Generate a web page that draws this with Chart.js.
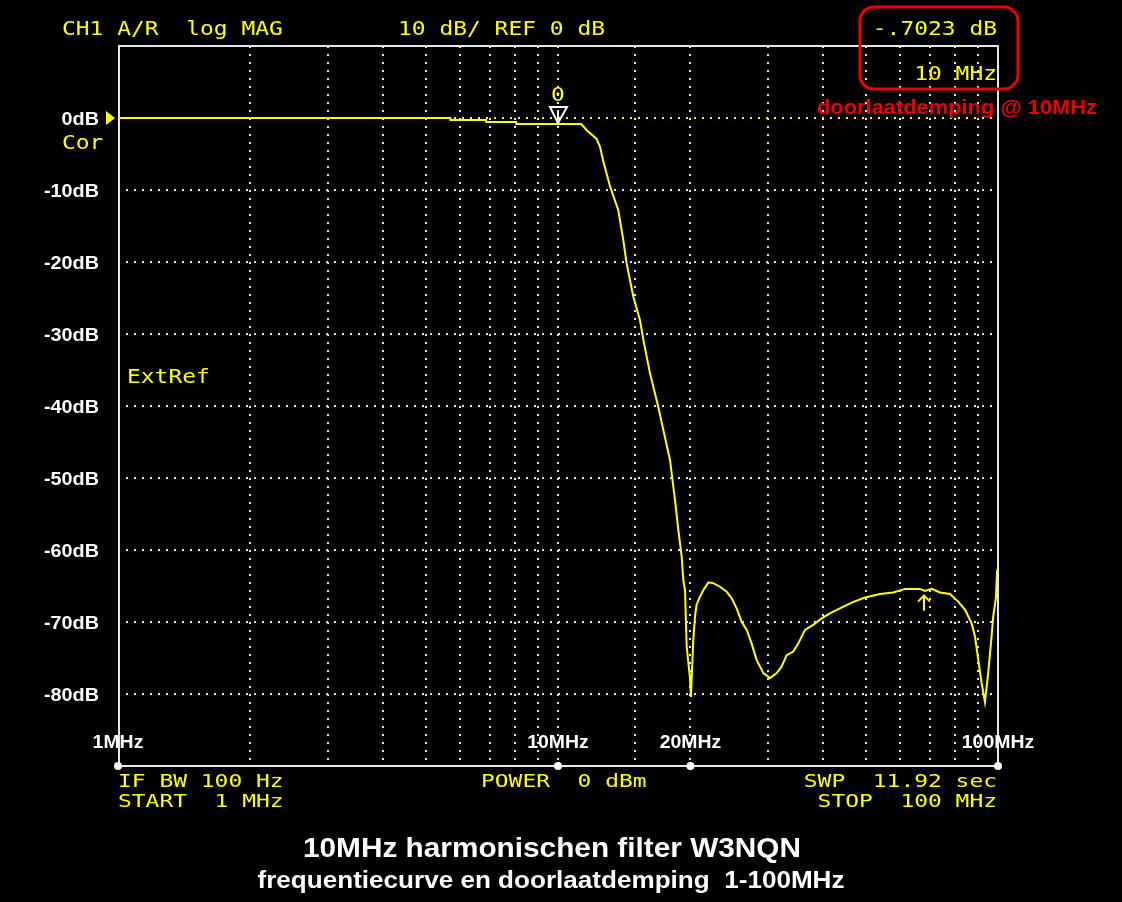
<!DOCTYPE html>
<html>
<head>
<meta charset="utf-8">
<script src="https://cdn.jsdelivr.net/npm/chart.js@4.4.1/dist/chart.umd.min.js"></script>
<style>
  html, body { margin: 0; padding: 0; background: #000; }
  canvas { display: block; }
</style>
</head>
<body>
<canvas id="chart" width="1122" height="902"></canvas>
<script>
// Sweep (MHz / dB)
const freqMHz = [1, 5.69, 5.7, 6.86, 6.87, 8.03, 8.04, 11.3, 11.62, 12.03, 12.24, 12.46, 12.65,
  13.13, 13.71, 14.07, 14.32, 14.83, 15.36, 15.63, 16.19, 16.9, 17.35, 17.97, 18.45, 18.77,
  19.1, 19.27, 19.44, 19.61, 19.95, 20.05, 20.3, 20.48, 20.65, 21.02, 21.39, 21.96, 22.54,
  23.35, 24.17, 24.82, 25.47, 26.16, 26.85, 27.55, 28.29, 29.29, 30.33, 31.41, 32.22, 33.09,
  34.26, 35.16, 36.42, 38.02, 39.72, 41.5, 43.71, 46.49, 49.86, 53.93, 57.81, 61.46, 66.48,
  68.23, 70.7, 73.8, 77.8, 81.3, 84.2, 87.1, 88.66, 90.2, 91.8, 93.4, 95.0, 96.7, 97.5,
  98.9, 99.5, 100];
const magDB = [0, 0, -0.28, -0.28, -0.56, -0.56, -0.84, -0.84, -1.7, -2.5, -2.9, -4.0, -5.8,
  -9.5, -12.8, -16.9, -20.2, -24.8, -28.1, -30.8, -35.5, -40.1, -43.3, -47.5, -53.1, -57.2,
  -60.9, -64.2, -65.6, -73.4, -77.8, -80.4, -72.5, -69.3, -67.6, -66.5, -65.6, -64.5, -64.6,
  -65.1, -65.8, -66.7, -68.1, -70.0, -71.1, -73.0, -75.3, -77.1, -77.8, -77.1, -76.2, -74.6,
  -74.1, -73.0, -71.1, -70.4, -69.5, -68.8, -68.1, -67.3, -66.6, -66.1, -65.9, -65.4, -65.4,
  -65.7, -65.4, -65.9, -66.1, -67.2, -68.3, -70.2, -72.0, -75.3, -78.5, -81.1, -77.1, -72.0, -69.3,
  -66.7, -63.0, -62.5];

const yTickLabels = ['0dB', '-10dB', '-20dB', '-30dB', '-40dB', '-50dB', '-60dB', '-70dB', '-80dB'];
const yTickValues = [0, -10, -20, -30, -40, -50, -60, -70, -80];
const xLabelFreqs = [1, 10, 20, 100];
const xLabelTexts = ['1MHz', '10MHz', '20MHz', '100MHz'];

const markerFreq = 10;
const markerValue = -0.84;
const arrowFreq = 67.9;

const YELLOW = '#ffff00';
const GRID = '#e6e6e6';
const RED = '#ee0000';
const MONO = '"DejaVu Sans Mono", monospace';
const SANS = '"Liberation Sans", Arial, sans-serif';

// monospace screen text, stretched to the 13.8px pitch of the analyzer font
function screenText(ctx, text, x, y, size, align) {
    ctx.save();
    ctx.font = size + 'px ' + MONO;
    ctx.fillStyle = YELLOW;
    ctx.textAlign = 'left';
    ctx.textBaseline = 'alphabetic';
    const natural = ctx.measureText(text).width;
    const sx = (13.8 * text.length) / natural;
    const w = natural * sx;
    let left = x;
    if (align === 'right') left = x - w;
    if (align === 'center') left = x - w / 2;
    ctx.translate(left, y);
    ctx.scale(sx, 1);
    ctx.fillText(text, 0, 0);
    ctx.restore();
}

// bold sans text, stretched either to a width or by a factor
function boldText(ctx, text, x, y, size, align, color, opts) {
    opts = opts || {};
    ctx.save();
    ctx.font = 'bold ' + size + 'px ' + SANS;
    ctx.fillStyle = color;
    ctx.textAlign = 'left';
    ctx.textBaseline = 'alphabetic';
    const natural = ctx.measureText(text).width;
    const sx = opts.width ? opts.width / natural : (opts.stretch || 1);
    const w = natural * sx;
    let left = x;
    if (align === 'right') left = x - w;
    if (align === 'center') left = x - w / 2;
    ctx.translate(left, y);
    ctx.scale(sx, 1);
    ctx.fillText(text, 0, 0);
    ctx.restore();
}

const overlay = {
    id: 'analyzerOverlay',
    beforeDraw(chart) {
        const ctx = chart.ctx;
        ctx.save();
        ctx.fillStyle = '#000';
        ctx.fillRect(0, 0, chart.width, chart.height);
        ctx.restore();
    },
    afterDatasetsDraw(chart) {
        const ctx = chart.ctx;
        const area = chart.chartArea;
        const xs = chart.scales.x;
        const ys = chart.scales.y;

        // screen frame
        ctx.save();
        ctx.strokeStyle = GRID;
        ctx.lineWidth = 2;
        ctx.strokeRect(area.left + 1, area.top, area.right - area.left - 1, area.bottom - area.top);

        // dots on the bottom edge
        ctx.fillStyle = '#ffffff';
        xLabelFreqs.forEach(f => {
            ctx.beginPath();
            ctx.arc(xs.getPixelForValue(f), area.bottom, 4, 0, Math.PI * 2);
            ctx.fill();
        });

        // reference level pointer
        const y0 = ys.getPixelForValue(0);
        ctx.fillStyle = YELLOW;
        ctx.beginPath();
        ctx.moveTo(106, y0 - 7);
        ctx.lineTo(106, y0 + 7);
        ctx.lineTo(115, y0);
        ctx.closePath();
        ctx.fill();

        // marker 0 at 10 MHz
        const mx = xs.getPixelForValue(markerFreq);
        const my = ys.getPixelForValue(markerValue);
        ctx.strokeStyle = '#ffffff';
        ctx.lineWidth = 2;
        ctx.beginPath();
        ctx.moveTo(mx - 8, my - 17);
        ctx.lineTo(mx + 9, my - 17);
        ctx.lineTo(mx, my - 1);
        ctx.closePath();
        ctx.stroke();
        ctx.beginPath();
        ctx.moveTo(mx, my - 12);
        ctx.lineTo(mx, my - 4);
        ctx.stroke();
        screenText(ctx, '0', mx, my - 23, 20, 'center');

        // small marker arrow on the stopband
        const ax = Math.round(xs.getPixelForValue(arrowFreq));
        const ay = ys.getPixelForValue(-66.2);
        ctx.strokeStyle = YELLOW;
        ctx.lineWidth = 2;
        ctx.beginPath();
        ctx.moveTo(ax, ay);
        ctx.lineTo(ax, ay + 16);
        ctx.moveTo(ax - 6, ay + 7);
        ctx.lineTo(ax, ay + 1);
        ctx.lineTo(ax + 6, ay + 7);
        ctx.stroke();
        ctx.restore();

        // axis labels
        yTickValues.forEach((v, i) => {
            boldText(ctx, yTickLabels[i], 99, ys.getPixelForValue(v) + 7, 18, 'right', '#ffffff', { stretch: 1.1 });
        });
        xLabelFreqs.forEach((f, i) => {
            boldText(ctx, xLabelTexts[i], xs.getPixelForValue(f), area.bottom - 18, 18, 'center', '#ffffff', { stretch: 1.08 });
        });

        // analyzer annotations
        screenText(ctx, 'CH1 A/R  log MAG', 62, 35, 20, 'left');
        screenText(ctx, '10 dB/ REF 0 dB', 398, 35, 20, 'left');
        screenText(ctx, '-.7023 dB', 997, 35, 20, 'right');
        screenText(ctx, '10 MHz', 997, 80, 20, 'right');
        screenText(ctx, 'Cor', 62, 149, 20, 'left');
        screenText(ctx, 'ExtRef', 127, 383, 20, 'left');
        screenText(ctx, 'IF BW 100 Hz', 118, 787, 18, 'left');
        screenText(ctx, 'START  1 MHz', 118, 807, 18, 'left');
        screenText(ctx, 'POWER  0 dBm', 481, 787, 18, 'left');
        screenText(ctx, 'SWP  11.92 sec', 997, 787, 18, 'right');
        screenText(ctx, 'STOP  100 MHz', 997, 807, 18, 'right');

        // red callout
        ctx.save();
        ctx.strokeStyle = RED;
        ctx.lineWidth = 3;
        ctx.beginPath();
        ctx.roundRect(860, 7, 158, 82, 14);
        ctx.stroke();
        ctx.restore();
        boldText(ctx, 'doorlaatdemping @ 10MHz', 817, 114, 20, 'left', RED, { width: 280 });

        // captions
        boldText(ctx, '10MHz harmonischen filter W3NQN', 552, 857, 28, 'center', '#ffffff', { width: 498 });
        boldText(ctx, 'frequentiecurve en doorlaatdemping  1-100MHz', 551, 888, 23, 'center', '#ffffff', { width: 587 });
    }
};

new Chart(document.getElementById('chart').getContext('2d'), {
    type: 'line',
    data: {
        datasets: [{
            label: 'CH1 A/R',
            data: freqMHz.map((f, i) => ({ x: f, y: magDB[i] })),
            borderColor: YELLOW,
            borderWidth: 2,
            pointRadius: 0,
            tension: 0,
            fill: false
        }]
    },
    options: {
        responsive: false,
        animation: false,
        layout: { padding: { left: 118, top: 46, right: 124, bottom: 136 } },
        plugins: {
            legend: { display: false },
            tooltip: { enabled: false }
        },
        scales: {
            x: {
                type: 'logarithmic',
                min: 1,
                max: 100,
                afterFit(scale) { scale.height = 0; },
                ticks: { display: false, autoSkip: false },
                border: { display: false, dash: [2, 6] },
                grid: {
                    drawTicks: false,
                    lineWidth: 2,
                    color: ctx => (ctx.tick && (ctx.tick.value === 1 || ctx.tick.value === 100)) ? 'rgba(0,0,0,0)' : GRID
                }
            },
            y: {
                min: -90,
                max: 10,
                afterFit(scale) { scale.width = 0; },
                ticks: { display: false, stepSize: 10, autoSkip: false },
                border: { display: false, dash: [2, 6] },
                grid: {
                    drawTicks: false,
                    lineWidth: 2,
                    color: ctx => {
                        if (!ctx.tick) return GRID;
                        if (ctx.tick.value === 0) return YELLOW;
                        if (ctx.tick.value === 10 || ctx.tick.value === -90) return 'rgba(0,0,0,0)';
                        return GRID;
                    }
                }
            }
        }
    },
    plugins: [overlay]
});
</script>
</body>
</html>
